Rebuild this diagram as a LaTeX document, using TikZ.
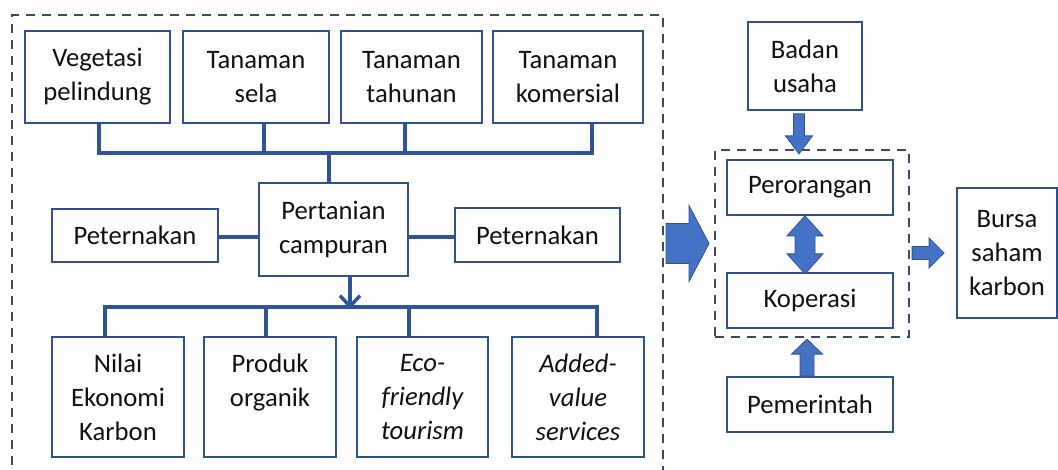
\documentclass[tikz,border=0pt]{standalone}
\usepackage{fontspec}
\setmainfont{Carlito}
\usetikzlibrary{calc,arrows.meta}
\definecolor{boxc}{HTML}{2F528F}
\definecolor{connc}{HTML}{2F5597}
\definecolor{dashc}{HTML}{3B4A66}
\definecolor{arrf}{HTML}{4472C4}
\definecolor{txtc}{HTML}{111111}
\begin{document}
\begin{tikzpicture}[x=0.75pt,y=-0.75pt,
  box/.style={draw=boxc,line width=1.3pt,fill=white,align=center,inner sep=0pt,text=txtc,font=\fontsize{20}{25.5}\selectfont},
  sz/.style 2 args={minimum width=#1*0.75pt,minimum height=#2*0.75pt},
  dashbox/.style={draw=dashc,line width=1.5pt,dash pattern=on 7pt off 5pt,inner sep=0pt},
  conn/.style={draw=connc,line width=3pt},
  blockarr/.style={fill=arrf,draw=boxc,line width=0.6pt,line join=miter}]
\useasboundingbox (0,0) rectangle (1058,470);
\clip (0,0) rectangle (1058,470);
\fill[white] (0,0) rectangle (1058,470);
% group frames
\node[dashbox,sz={651}{465}] (outer) at (337.5,247.5) {};
\node[dashbox,sz={194}{187}] (grp) at (812,243.5) {};
% top row
\node[box,sz={145}{92}] (veg) at (97.5,77) {Vegetasi\\pelindung};
\node[box,sz={146}{92}] (sela) at (256,77) {Tanaman\\sela};
\node[box,sz={141}{92}] (tah) at (411.5,77) {Tanaman\\tahunan};
\node[box,sz={150}{92}] (kom) at (568,77) {Tanaman\\komersial};
% middle row
\node[box,sz={149}{93}] (pert) at (333.5,229.5) {Pertanian\\campuran};
\node[box,sz={166}{53}] (petL) at (135,235.5) {Peternakan};
\node[box,sz={165}{54}] (petR) at (537.5,235) {Peternakan};
% bottom row
\node[box,sz={132}{120}] (nilai) at (118,397) {Nilai\\Ekonomi\\Karbon};
\node[box,sz={132}{120}] (produk) at (270,397) {Produk\\organik\\~};
\node[box,sz={131}{120}] (eco) at (422.5,397) {\itshape Eco-\\\itshape friendly\\\itshape tourism};
\node[box,sz={132}{120}] (added) at (578,397) {\itshape Added-\\\itshape value\\\itshape services};
% right part
\node[box,sz={114}{88}] (badan) at (805,66) {Badan\\usaha};
\node[box,sz={166}{55}] (per) at (810,187.5) {Perorangan};
\node[box,sz={166}{55}] (kop) at (810,300.5) {Koperasi};
\node[box,sz={166}{55}] (pem) at (810,404.5) {Pemerintah};
\node[box,sz={100}{130}] (bursa) at (1007,253) {Bursa\\saham\\karbon};
% top connectors
\draw[conn] ($(veg.south)+(1.5,0)$) |- ($(kom.south)+(24,29)$) -- ($(kom.south)+(24,0)$);
\draw[conn] ($(sela.south)+(8,0)$) -- ++(0,29);
\draw[conn] ($(tah.south)+(-6.5,0)$) -- ++(0,29);
\draw[conn] ($(pert.north)+(-4.5,0)$) -- ++(0,-31);
% side connectors
\draw[conn] ($(petL.east)+(0,1.5)$) -- ($(petL.east -| pert.west)+(0,1.5)$);
\draw[conn] ($(petR.west)+(0,2)$) -- ($(petR.west -| pert.east)+(0,2)$);
% bottom connectors
\coordinate (bus) at ($(pert.south)+(16.5,32)$);
\draw[conn,-{Straight Barb[length=8pt,width=15pt,line width=2.6pt]}] ($(pert.south)+(16.5,0)$) -- (bus);
\draw[conn] ($(nilai.north)+(-13,0)$) |- ($(added.north)+(19,-29)$) -- ($(added.north)+(19,0)$);
\draw[conn] ($(produk.north)+(-4,0)$) -- ++(0,-29);
\draw[conn] ($(eco.north)+(-13.5,0)$) -- ++(0,-29);
% block arrows
\begin{scope}[shift={(grp.west)}]
\draw[blockarr] (-48,-20) -- (-25,-20) -- (-25,-38) -- (-5,0) -- (-25,38) -- (-25,20) -- (-48,20) -- cycle;
\end{scope}
\begin{scope}[shift={(bursa.west)}]
\draw[blockarr] (-44,-6.5) -- (-27,-6.5) -- (-27,-15) -- (-12,0) -- (-27,15) -- (-27,6.5) -- (-44,6.5) -- cycle;
\end{scope}
\begin{scope}[shift={(badan.south)}]
\draw[blockarr] (-11.5,3) -- (-0.5,3) -- (-0.5,25) -- (7.5,25) -- (-6,43) -- (-19.5,25) -- (-11.5,25) -- cycle;
\end{scope}
\begin{scope}[shift={(per.south)}]
\draw[blockarr] (-5,0) -- (13,20) -- (5,20) -- (5,38) -- (13,38) -- (-5,58) -- (-23,38) -- (-15,38) -- (-15,20) -- (-23,20) -- cycle;
\end{scope}
\begin{scope}[shift={(pem.north)}]
\draw[blockarr] (-10,0) -- (-10,-22) -- (-18.5,-22) -- (-3,-37) -- (12.5,-22) -- (4,-22) -- (4,0) -- cycle;
\end{scope}
\end{tikzpicture}
\end{document}
